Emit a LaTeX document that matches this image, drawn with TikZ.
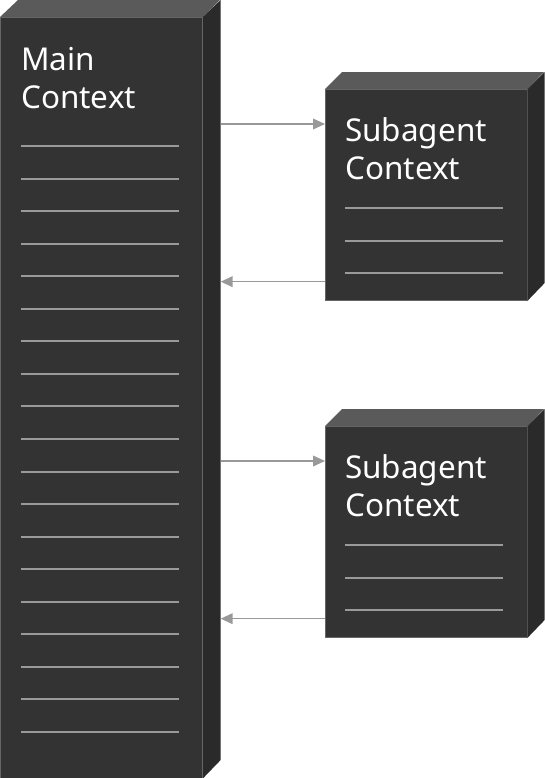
\documentclass[tikz,border=0pt]{standalone}
\usepackage{fontspec}
\setmainfont{Noto Sans}
\usetikzlibrary{arrows.meta,positioning,calc}
\definecolor{faceFront}{HTML}{333333}
\definecolor{faceTop}{HTML}{5A5A5A}
\definecolor{faceSide}{HTML}{2A2A2A}
\definecolor{edgeGray}{HTML}{666666}
\definecolor{ruleGray}{HTML}{9A9A9A}
\definecolor{flowGray}{HTML}{999999}
\begin{document}
\begin{tikzpicture}[x=0.75pt,y=-0.75pt,>={Triangle[length=9pt,width=8pt]}]
    \tikzset{
        front/.style={fill=faceFront,draw=edgeGray,line width=0.5pt,inner sep=0pt,anchor=north west,minimum width=151.5pt},
        ctxtext/.style={text=white,align=left,anchor=base west,inner sep=0pt,font=\fontsize{23.6}{28.5}\selectfont},
        rule/.style={ruleGray,line width=1.5pt},
        flow/.style={flowGray,line width=1.2pt}
    }
    \useasboundingbox (0,0) rectangle (544,778);
    % main context column
    \node[front,minimum height=570.75pt] (main) at (0,17) {};
    \fill[faceTop] (main.north west) -- ++(18,-17) -- ++(202,0) -- (main.north east) -- cycle;
    \fill[faceSide] (main.north east) -- ++(18,-17) -- ++(0,760) -- (main.south east) -- cycle;
    \draw[edgeGray,line width=0.5pt] (main.north east) -- (main.south east);
    \node[ctxtext] (mainlabel) at ($(main.north west)+(21,91)$) {Main\\Context};
    \foreach \i in {0,...,18}
        \draw[rule] ($(main.north west)+(21,129+32.55*\i)$) -- ++(158,0);
    % subagent boxes
    \foreach \name/\top in {sub1/89,sub2/426}{
        \node[front,minimum height=158.25pt] (\name) at (325,\top) {};
        \fill[faceTop] (\name.north west) -- ++(17,-17) -- ++(202,0) -- (\name.north east) -- cycle;
        \fill[faceSide] (\name.north east) -- ++(17,-17) -- ++(0,211) -- (\name.south east) -- cycle;
        \node[ctxtext] (\name label) at ($(\name.north west)+(20,90)$) {Subagent\\Context};
        \foreach \j in {0,1,2}
            \draw[rule] ($(\name.north west)+(20,119+32.5*\j)$) -- ++(158,0);
        \coordinate (\name in) at ($(\name.north west)+(0,35)$);
        \coordinate (\name out) at ($(\name.south west)+(0,-19)$);
        \draw[flow,->] ([xshift=13.5pt]main.east |- \name in) -- (\name in);
        \draw[flow,->] (\name out) -- ([xshift=13.5pt]main.east |- \name out);
    }
\end{tikzpicture}
\end{document}
